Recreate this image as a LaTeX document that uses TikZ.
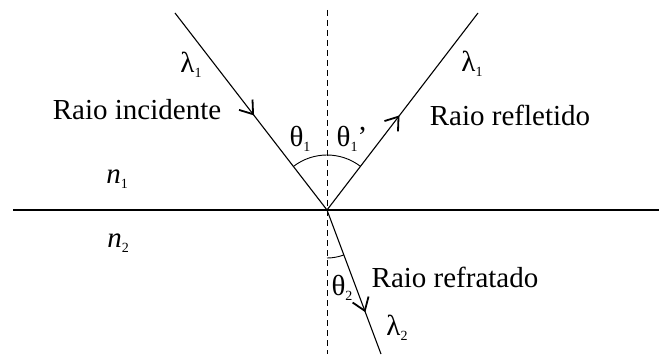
\documentclass[tikz,border=0pt]{standalone}
\usepackage{fontspec}
\setmainfont{Liberation Serif}
\usetikzlibrary{arrows.meta,decorations.markings}

\newcommand{\lowidx}[1]{\raisebox{-0.4ex}{\fontsize{14}{14}\selectfont #1}}

\tikzset{
  ray/.style={line width=1.1pt},
  lbl/.style={font=\fontsize{29}{33}\selectfont, inner sep=0pt},
  midarrow/.style={postaction={decorate},
    decoration={markings, mark=at position #1 with
      {\arrow{Straight Barb[length=12pt,width=17pt,line width=1.8pt]}}}}
}

\begin{document}
\begin{tikzpicture}[x=1pt,y=1pt]
\useasboundingbox (0,0) rectangle (659,354);

% Points
\coordinate (O) at (327,144);
\coordinate (inc) at (175,341);
\coordinate (refl) at (478,341);
\coordinate (refr) at (381,0);

% Interface and normal
\draw[line width=1.3pt] (13,144) -- (659,144);
\draw[line width=0.9pt, dash pattern=on 6pt off 4pt] (327,344) -- (327,0);

% Rays
\draw[ray, midarrow=0.52] (inc) -- (O);
\draw[ray, midarrow=0.48] (O) -- (refl);
\draw[ray, midarrow=0.71] (O) -- (refr);

% Angle arcs
\draw[line width=0.9pt] ([shift={(127.7:55)}]O) arc (127.7:52.3:55);
\draw[line width=0.9pt] ([shift={(270:48)}]O) arc (270:290.6:48);

% Wavelengths
\node[lbl] (lamA) at (191,289) {λ\lowidx{1}};
\node[lbl] (lamB) at (472,290) {λ\lowidx{1}};
\node[lbl] (lamC) at (397,26) {λ\lowidx{2}};

% Ray names
\node[lbl] (incText) at (137,244) {Raio incidente};
\node[lbl] (reflText) at (510,239) {Raio refletido};
\node[lbl] (refrText) at (455,77) {Raio refratado};

% Angles
\node[lbl] (thA) at (300,215) {θ\lowidx{1}};
\node[lbl] (thB) at (352,215) {θ\lowidx{1}’};
\node[lbl] (thC) at (342,66) {θ\lowidx{2}};

% Media
\node[lbl] (nA) at (117,175) {\textit{n}\lowidx{1}};
\node[lbl] (nB) at (118,111) {\textit{n}\lowidx{2}};

\end{tikzpicture}
\end{document}
